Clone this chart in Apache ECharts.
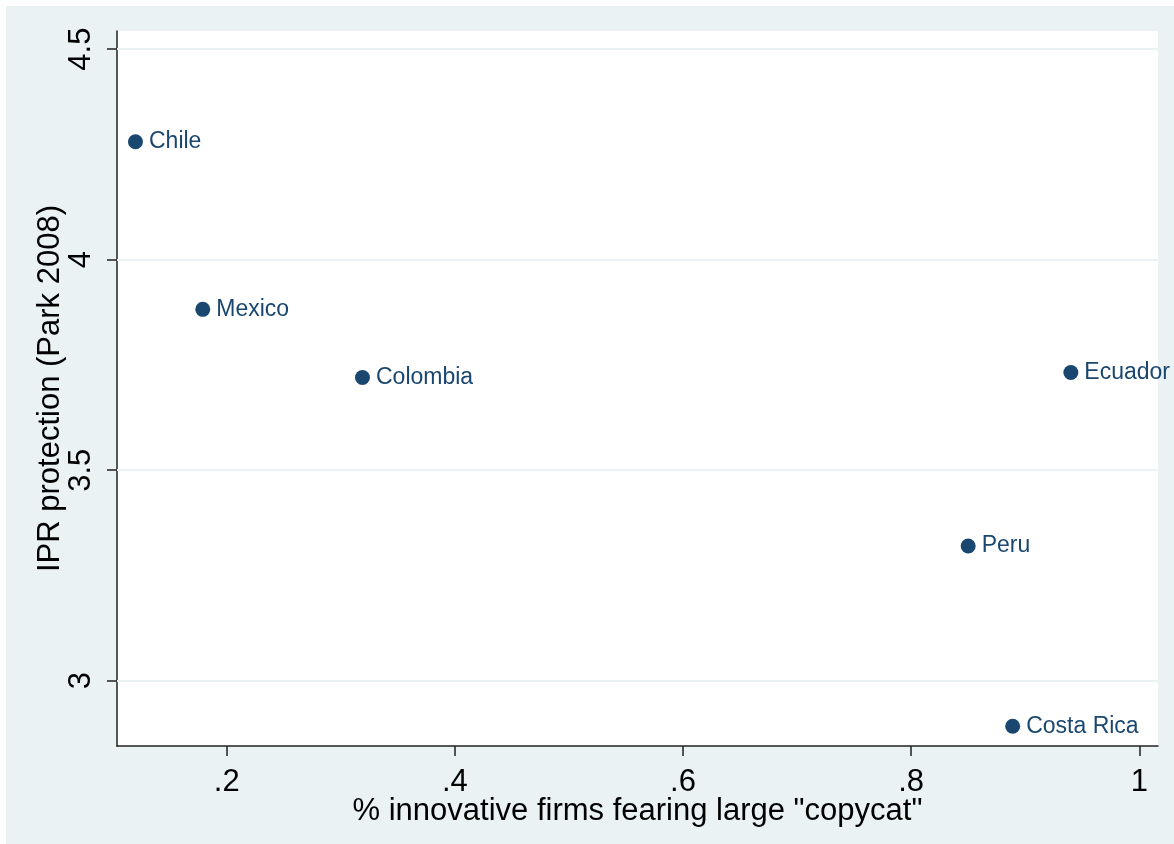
<!DOCTYPE html>
<html>
<head>
<meta charset="utf-8">
<script src="https://cdn.jsdelivr.net/npm/echarts@6/dist/echarts.min.js"></script>
<style>
  html, body { margin: 0; padding: 0; background: #ffffff; }
  #chart { width: 1174px; height: 844px; }
</style>
</head>
<body>
<div id="chart"></div>
<script>
// Countries and their values
const countries = ['Chile', 'Mexico', 'Colombia', 'Ecuador', 'Peru', 'Costa Rica'];
const copycatShare = [0.12, 0.179, 0.319, 0.94, 0.85, 0.889];
const iprProtection = [4.28, 3.882, 3.72, 3.732, 3.32, 2.892];

// Tick positions
const xTicks = [0.2, 0.4, 0.6, 0.8, 1];
const yTicks = [3, 3.5, 4, 4.5];

const xTitle = '% innovative firms fearing large "copycat"';
const yTitle = 'IPR protection (Park 2008)';

const navy = '#1A476F';
const bg = '#EAF2F3';
const font = '"Liberation Sans", Arial, sans-serif';

const points = countries.map((c, i) => ({ name: c, value: [copycatShare[i], iprProtection[i]] }));

// Stata-style number labels: drop the leading zero
const fmt = v => {
  const s = String(+v.toFixed(4));
  return s.replace(/^0\./, '.').replace(/^-0\./, '-.');
};

const chart = echarts.init(document.getElementById('chart'), null, { renderer: 'canvas' });

chart.setOption({
  animation: false,
  backgroundColor: '#ffffff',
  graphic: [{
    type: 'rect',
    z: -10,
    silent: true,
    shape: { x: 6, y: 6, width: 1168, height: 838 },
    style: { fill: bg }
  }],
  grid: {
    show: true,
    left: 117, top: 31, width: 1041, height: 715,
    backgroundColor: '#ffffff',
    borderWidth: 0
  },
  xAxis: {
    type: 'value',
    min: 0.1038, max: 1.0164,
    name: xTitle,
    nameLocation: 'middle',
    nameGap: 50,
    nameMoveOverlap: false,
    nameTextStyle: { fontFamily: font, fontSize: 31, color: '#000' },
    axisLine: { show: true, onZero: false, lineStyle: { color: '#222', width: 1.5 } },
    axisTick: { show: true, length: 10, customValues: xTicks, lineStyle: { color: '#222', width: 1.5 } },
    axisLabel: {
      customValues: xTicks,
      formatter: fmt,
      margin: 21,
      fontFamily: font, fontSize: 31, color: '#000'
    },
    splitLine: { show: false }
  },
  yAxis: {
    type: 'value',
    min: 2.845, max: 4.543,
    name: yTitle,
    nameLocation: 'middle',
    nameGap: 51,
    nameMoveOverlap: false,
    nameTextStyle: { fontFamily: font, fontSize: 31, color: '#000' },
    axisLine: { show: true, onZero: false, lineStyle: { color: '#222', width: 1.5 } },
    axisTick: { show: true, length: 10, customValues: yTicks, lineStyle: { color: '#222', width: 1.5 } },
    axisLabel: {
      customValues: yTicks,
      formatter: fmt,
      rotate: 90,
      margin: 20,
      fontFamily: font, fontSize: 31, color: '#000'
    },
    splitLine: { show: false }
  },
  series: [{
    type: 'scatter',
    data: points,
    symbol: 'circle',
    symbolSize: 15,
    itemStyle: { color: navy, opacity: 1 },
    label: {
      show: true,
      position: 'right',
      distance: 6,
      formatter: p => p.name,
      fontFamily: font,
      fontSize: 23,
      color: navy,
      opacity: 1
    },
    markLine: {
      silent: true,
      symbol: 'none',
      z: 1,
      label: { show: false },
      lineStyle: { color: bg, width: 2, type: 'solid', opacity: 1 },
      data: yTicks.map(v => ({ yAxis: v }))
    }
  }]
});
</script>
</body>
</html>
